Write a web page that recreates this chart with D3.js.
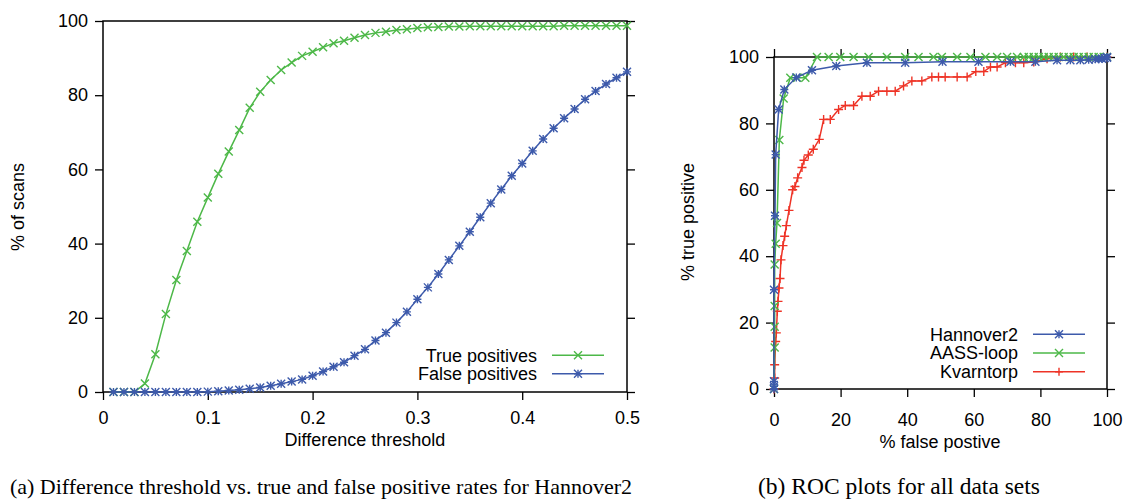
<!DOCTYPE html>
<html>
<head>
<meta charset="utf-8">
<script src="https://cdn.jsdelivr.net/npm/d3@7"></script>
<style>
  html, body { margin: 0; padding: 0; background: #fff; }
  svg { display: block; }
  .sans { font-family: "Liberation Sans", Arial, Helvetica, sans-serif; }
  .serif { font-family: "Liberation Serif", "Times New Roman", serif; }
</style>
</head>
<body>
<svg id="fig" width="1132" height="500"></svg>
<script>
// ---- (a) threshold sweep for Hannover2 ----
const thresholds = d3.range(1, 51).map(i => i / 100);
const truePositives = [0, 0, 0, 2.3, 10.2, 21, 30.2, 38, 45.9, 52.4,
  58.8, 64.8, 70.6, 76.6, 80.9, 84.1, 86.8, 88.8, 90.6, 91.7,
  92.9, 94.0, 94.7, 95.5, 96.2, 96.8, 97.1, 97.6, 97.8, 98.1,
  98.3, 98.4, 98.5, 98.5, 98.6, 98.6, 98.6, 98.6, 98.6, 98.6,
  98.6, 98.6, 98.6, 98.7, 98.7, 98.7, 98.7, 98.7, 98.7, 98.7];
const falsePositives = [0, 0, 0, 0, 0, 0, 0, 0, 0, 0.1,
  0.2, 0.4, 0.6, 0.9, 1.2, 1.7, 2.2, 2.8, 3.4, 4.4,
  5.5, 6.8, 8.0, 9.8, 11.5, 13.9, 16.0, 18.7, 21.6, 25.0,
  28.2, 31.8, 35.6, 39.4, 43.2, 47.1, 50.9, 54.6, 58.3, 61.6,
  65.0, 68.2, 71.1, 73.8, 76.3, 78.9, 81.1, 83.0, 84.7, 86.3];
const thresholdTicks = [0, 0.1, 0.2, 0.3, 0.4, 0.5];
const scanTicks = [0, 20, 40, 60, 80, 100];

// ---- (b) ROC curves: [% false positive, % true positive] ----
const rocHannover2 = [[0, 0], [0, 0.8], [0, 2.3], [0, 29.9], [0.3, 52.2], [0.5, 70.6],
  [1.4, 84.2], [3.1, 90.2], [6.7, 93.8], [11.4, 96], [18.7, 97.3], [27.9, 98.3],
  [39.4, 98.3], [50.6, 98.6], [61.4, 98.6], [71, 98.6], [78.5, 98.6], [85, 99],
  [89, 99], [92, 99], [94.5, 99.2], [96.5, 99.3], [97.5, 99.5], [98.5, 99.5],
  [99.3, 99.7], [100, 99.8], [100, 100]];
const rocAASSloop = [[0, 0], [0.2, 12.5], [0.2, 18.75], [0.2, 25], [0.2, 37.5],
  [0.5, 43.75], [0.9, 50], [1.6, 75], [2.9, 87.5], [4.9, 93.75], [6.9, 93.75],
  [9.4, 93.75], [12.9, 100], [16.4, 100], [19.9, 100], [23.9, 100], [28.4, 100],
  [33.9, 100], [39.4, 100], [43.4, 100], [47.9, 100], [50.4, 100], [55, 100],
  [59, 100], [63.5, 100], [67, 100], [70, 100], [73, 100], [75, 100], [76.5, 100],
  [78, 100], [79.5, 100], [81, 100], [82.5, 100], [84, 100], [85.5, 100], [87, 100],
  [88.5, 100], [90, 100], [91.5, 100], [93, 100], [94.5, 100], [96, 100], [97.5, 100],
  [99, 100], [100, 100]];
const rocKvarntorp = [[0, 0], [0.2, 3.3], [0.2, 7.3], [0.5, 14.3], [0.7, 16.9],
  [1, 23.4], [1.2, 26.4], [1.5, 30.4], [1.8, 33.3], [2.1, 38.9], [2.7, 43.2],
  [3.2, 46], [3.7, 49.2], [4.5, 53.8], [5.6, 60], [6.3, 61], [7.1, 63.6],
  [8.4, 66.7], [9, 68.9], [10.3, 70.5], [11.8, 72.2], [13.6, 75.2], [14.9, 81.2],
  [16.9, 81.2], [19.4, 84.2], [21.4, 85.4], [23.9, 85.4], [26.4, 88.2], [28.9, 88.2],
  [31.4, 89.7], [33.9, 89.7], [36.4, 89.7], [38.9, 91.3], [41.4, 92.8], [44.4, 92.8],
  [47.4, 94], [49.4, 94], [51.4, 94], [55, 94], [58, 94], [60.6, 95.6], [63, 95.6],
  [65, 97], [67, 97], [69.5, 98.3], [72.5, 98.3], [75, 98.3], [78, 98.5],
  [82, 99.5], [86, 100], [90, 100], [94, 100], [100, 100]];
const rocTicks = [0, 20, 40, 60, 80, 100];

const GREEN = "#4db848", BLUE = "#3d5aab", RED = "#ee3326";
const FONT = 18;

// point glyphs in the gnuplot style
const glyph = {
  cross: s => `M${-s},${-s}L${s},${s}M${-s},${s}L${s},${-s}`,
  plus: s => `M${-s},0L${s},0M0,${-s}L0,${s}`,
  star: s => `M${-s},0L${s},0M0,${-s}L0,${s}M${-s},${-s}L${s},${s}M${-s},${s}L${s},${-s}`
};

const svg = d3.select("#fig");

function frame(g, x, y, xTicks, yTicks, xFmt, opts) {
  const [x0, x1] = x.range(), [y0, y1] = y.range();
  const T = 8;
  g.append("g").attr("transform", `translate(0,${y0})`)
    .call(d3.axisBottom(x).tickValues(xTicks).tickFormat(xFmt).tickSize(T).tickSizeOuter(0).tickPadding(opts.xPad));
  g.append("g").attr("transform", `translate(${x0},0)`)
    .call(d3.axisLeft(y).tickValues(yTicks).tickFormat(d3.format("d")).tickSize(T).tickSizeOuter(0).tickPadding(7));
  g.append("g").attr("transform", `translate(${x1},0)`)
    .call(d3.axisRight(y).tickValues(yTicks).tickFormat("").tickSize(T).tickSizeOuter(0));
  if (opts.top) {
    g.append("g").attr("transform", `translate(0,${y1})`)
      .call(d3.axisTop(x).tickValues(xTicks).tickFormat("").tickSize(T).tickSizeOuter(0));
  }
  g.selectAll(".domain").remove();
  g.selectAll(".tick line").attr("stroke", "#000").attr("stroke-width", 1.3);
  g.selectAll(".tick text").attr("fill", "#000").attr("font-size", FONT)
    .attr("font-family", "Liberation Sans, Arial, sans-serif");
  g.append("rect").attr("x", x0).attr("y", y1).attr("width", x1 - x0).attr("height", y0 - y1)
    .attr("fill", "none").attr("stroke", "#000").attr("stroke-width", 1.5);
}

function series(g, pts, x, y, color, kind, size) {
  g.append("path").datum(pts)
    .attr("d", d3.line().x(d => x(d[0])).y(d => y(d[1])))
    .attr("fill", "none").attr("stroke", color).attr("stroke-width", 1.5);
  g.append("g").selectAll("path").data(pts).join("path")
    .attr("transform", d => `translate(${x(d[0])},${y(d[1])})`)
    .attr("d", glyph[kind](size))
    .attr("fill", "none").attr("stroke", color).attr("stroke-width", 1.4);
}

function legend(g, items, xTextEnd, yFirst, step) {
  items.forEach((it, i) => {
    const yy = yFirst + i * step;
    g.append("text").attr("class", "sans").attr("x", xTextEnd).attr("y", yy)
      .attr("dy", "0.36em").attr("text-anchor", "end").attr("font-size", FONT).text(it.label);
    g.append("line").attr("x1", xTextEnd + 15).attr("x2", xTextEnd + 67).attr("y1", yy).attr("y2", yy)
      .attr("stroke", it.color).attr("stroke-width", 1.5);
    g.append("path").attr("transform", `translate(${xTextEnd + 41},${yy})`)
      .attr("d", glyph[it.kind](4)).attr("fill", "none").attr("stroke", it.color).attr("stroke-width", 1.4);
  });
}

// ---------- panel (a) ----------
const xA = d3.scaleLinear([0, 0.5], [103, 627]);
const yA = d3.scaleLinear([0, 100], [392, 21]);
const gA = svg.append("g");
frame(gA, xA, yA, thresholdTicks, scanTicks, d => d === 0 ? "0" : d3.format(".1f")(d), { xPad: 11, top: false });
series(gA, thresholds.map((t, i) => [t, truePositives[i]]), xA, yA, GREEN, "cross", 4);
series(gA, thresholds.map((t, i) => [t, falsePositives[i]]), xA, yA, BLUE, "star", 4);
legend(gA, [
  { label: "True positives", color: GREEN, kind: "cross" },
  { label: "False positives", color: BLUE, kind: "star" }
], 537, 355.3, 18.4);
gA.append("text").attr("class", "sans").attr("x", 365).attr("y", 446).attr("text-anchor", "middle")
  .attr("font-size", FONT).text("Difference threshold");
gA.append("text").attr("class", "sans").attr("transform", "translate(24,207) rotate(-90)")
  .attr("text-anchor", "middle").attr("font-size", FONT).text("% of scans");

// ---------- panel (b) ----------
const xB = d3.scaleLinear([0, 100], [774, 1107]);
const yB = d3.scaleLinear([0, 100], [389, 57]);
const gB = svg.append("g");
frame(gB, xB, yB, rocTicks, rocTicks, d3.format("d"), { xPad: 16, top: true });
series(gB, rocKvarntorp, xB, yB, RED, "plus", 4.5);
series(gB, rocAASSloop, xB, yB, GREEN, "cross", 4);
series(gB, rocHannover2, xB, yB, BLUE, "star", 4);
legend(gB, [
  { label: "Hannover2", color: BLUE, kind: "star" },
  { label: "AASS-loop", color: GREEN, kind: "cross" },
  { label: "Kvarntorp", color: RED, kind: "plus" }
], 1018, 334.3, 18.7);
gB.append("text").attr("class", "sans").attr("x", 940).attr("y", 448).attr("text-anchor", "middle")
  .attr("font-size", FONT).text("% false postive");
gB.append("text").attr("class", "sans").attr("transform", "translate(694,222) rotate(-90)")
  .attr("text-anchor", "middle").attr("font-size", FONT).text("% true positive");

// ---------- captions ----------
svg.append("text").attr("class", "serif").attr("x", 632).attr("y", 494).attr("text-anchor", "end")
  .attr("font-size", 22).text("(a) Difference threshold vs. true and false positive rates for Hannover2");
svg.append("text").attr("class", "serif").attr("x", 758).attr("y", 494).attr("text-anchor", "start")
  .attr("font-size", 23.5).text("(b) ROC plots for all data sets");
</script>
</body>
</html>
